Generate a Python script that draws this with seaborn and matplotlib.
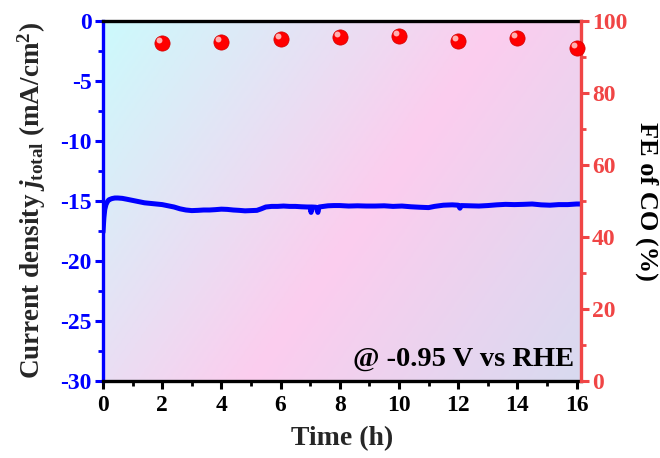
import numpy as np
import pandas as pd
import matplotlib
matplotlib.use("Agg")
import matplotlib.pyplot as plt
import matplotlib.transforms as mtransforms
from matplotlib.colors import LinearSegmentedColormap
from matplotlib.ticker import MultipleLocator
import seaborn as sns

# ---- data ----
time_h = [0.0, 0.03, 0.06, 0.1, 0.15, 0.2, 0.3, 0.4, 0.5, 0.65, 0.8, 1.0, 1.2, 1.4, 1.6,
          1.8, 2.0, 2.2, 2.4, 2.6, 2.8, 3.0, 3.2, 3.4, 3.6, 3.8, 4.0, 4.2, 4.4, 4.6,
          4.8, 5.0, 5.2, 5.35, 5.5, 5.7, 5.9, 6.1, 6.3, 6.5, 6.7, 6.9, 7.0, 7.03, 7.06,
          7.2, 7.26, 7.3, 7.45, 7.6, 7.8, 8.0, 8.3, 8.6, 8.9, 9.2, 9.5, 9.8, 10.1,
          10.4, 10.7, 11.0, 11.2, 11.5, 11.8, 12.0, 12.06, 12.1, 12.4, 12.7, 13.0,
          13.3, 13.6, 13.9, 14.2, 14.5, 14.8, 15.1, 15.4, 15.7, 16.0, 16.15]
current = [-17.6, -16.4, -15.7, -15.3, -15.05, -14.9, -14.8, -14.75, -14.75, -14.78, -14.85,
           -14.95, -15.05, -15.15, -15.2, -15.25, -15.3, -15.4, -15.5, -15.65, -15.75,
           -15.8, -15.78, -15.75, -15.75, -15.72, -15.68, -15.7, -15.75, -15.78, -15.82,
           -15.8, -15.78, -15.65, -15.5, -15.45, -15.45, -15.42, -15.45, -15.45, -15.48,
           -15.5, -15.5, -15.95, -15.5, -15.52, -15.95, -15.5, -15.45, -15.4, -15.38,
           -15.38, -15.42, -15.4, -15.42, -15.42, -15.4, -15.45, -15.42, -15.48, -15.52,
           -15.55, -15.45, -15.35, -15.32, -15.35, -15.6, -15.38, -15.4, -15.42, -15.38,
           -15.32, -15.28, -15.3, -15.28, -15.25, -15.32, -15.35, -15.3, -15.3, -15.25, -15.25]
fe_time = [2, 4, 6, 8, 10, 12, 14, 16]
fe_co = [93.8, 94.2, 95.1, 95.5, 95.8, 94.4, 95.4, 92.6]

x_ticks = [0, 2, 4, 6, 8, 10, 12, 14, 16]
j_ticks = [0, -5, -10, -15, -20, -25, -30]
fe_ticks = [0, 20, 40, 60, 80, 100]

BLUE = "#0000ff"
RED = "#f04545"

sns.set_theme(style="ticks")
plt.rcParams["font.family"] = ["Liberation Serif", "DejaVu Serif"]
plt.rcParams["font.weight"] = "bold"
plt.rcParams["axes.unicode_minus"] = False
plt.rcParams["mathtext.fontset"] = "custom"
plt.rcParams["mathtext.rm"] = "Liberation Serif:bold"
plt.rcParams["mathtext.bf"] = "Liberation Serif:bold"
plt.rcParams["mathtext.it"] = "Liberation Serif:italic:bold"

fig = plt.figure(figsize=(6.6, 4.58), dpi=100)
ax = fig.add_axes([103 / 660, 1 - 381 / 458, (581 - 103) / 660, (381 - 21) / 458])

# gradient background (row 0 = top of axes)
u = np.linspace(0, 1, 300)
v = np.linspace(0, 1, 200)
U, V = np.meshgrid(u, v)
S = (U + 0.52 * V) / 1.52
cmap = LinearSegmentedColormap.from_list(
    "bg", [(0.0, "#ccfafc"), (0.83 / 1.52, "#fccdee"), (1.0, "#d8daf0")])
ax.imshow(S, cmap=cmap, extent=[0, 1, 0, 1], origin="upper", transform=ax.transAxes,
          aspect="auto", zorder=0, vmin=0, vmax=1)

df = pd.DataFrame({"t": time_h, "j": current})
sns.lineplot(data=df, x="t", y="j", ax=ax, color=BLUE, lw=3.6, zorder=3)
ax.set_xlim(0, 16.15)
ax.set_ylim(-30, 0)
ax.set_xticks(x_ticks)
ax.set_yticks(j_ticks)
ax.xaxis.set_minor_locator(MultipleLocator(1))
ax.yaxis.set_minor_locator(MultipleLocator(2.5))
ax.set_xlabel("Time (h)", fontsize=20, fontweight="bold", labelpad=7)
ax.set_ylabel(r"Current density $j_{\mathrm{total}}$ (mA/cm$^{2}$)", fontsize=19.5,
              fontweight="bold", labelpad=9)
ax.tick_params(axis="x", which="major", length=6, width=2.2, colors="black",
               labelsize=17, pad=4)
ax.tick_params(axis="x", which="minor", length=3.5, width=2, colors="black")
ax.tick_params(axis="y", which="major", length=6, width=2.2, colors=BLUE, labelsize=17, pad=2)
ax.tick_params(axis="y", which="minor", length=3.5, width=2, colors=BLUE)
for lab in ax.get_xticklabels() + ax.get_yticklabels():
    lab.set_fontweight("bold")
ax.spines["left"].set_color(BLUE)
ax.spines["left"].set_linewidth(2.4)
for s in ["top", "bottom"]:
    ax.spines[s].set_color("black")
    ax.spines[s].set_linewidth(2.4)
ax.spines["top"].set_visible(True)
ax.spines["right"].set_visible(False)

ax.text(0.985, 0.025, "@ -0.95 V vs RHE", transform=ax.transAxes, ha="right",
        va="bottom", fontsize=20.5, fontweight="bold", color="black", zorder=5)

ax2 = ax.twinx()
ax2.set_ylim(0, 100)
fdf = pd.DataFrame({"t": fe_time, "fe": fe_co})
sns.scatterplot(data=fdf, x="t", y="fe", ax=ax2, color="#ff0000", s=120,
                edgecolor="#d00000", linewidth=0.5, zorder=4, clip_on=False, legend=False)
off = mtransforms.ScaledTranslation(-2.2 / 72, 2.2 / 72, fig.dpi_scale_trans)
ax2.scatter(fe_time, fe_co, s=18, color="#ffd0d0", alpha=0.85, linewidth=0,
            transform=ax2.transData + off, zorder=5, clip_on=False)
ax2.set_yticks(fe_ticks)
ax2.yaxis.set_minor_locator(MultipleLocator(10))
ax2.set_xlabel("")
ax2.set_ylabel("FE of CO (%)", fontsize=19, fontweight="bold", rotation=270,
               labelpad=22, color="black")
ax2.tick_params(axis="y", which="major", length=6, width=2.2, colors=RED, labelsize=17, pad=2)
ax2.tick_params(axis="y", which="minor", length=3.5, width=2, colors=RED)
for lab in ax2.get_yticklabels():
    lab.set_fontweight("bold")
ax2.spines["right"].set_color(RED)
ax2.spines["right"].set_linewidth(2.4)
for s in ["top", "bottom", "left"]:
    ax2.spines[s].set_visible(False)
ax.set_xlim(0, 16.15)

fig.savefig("out.png", dpi=100)
